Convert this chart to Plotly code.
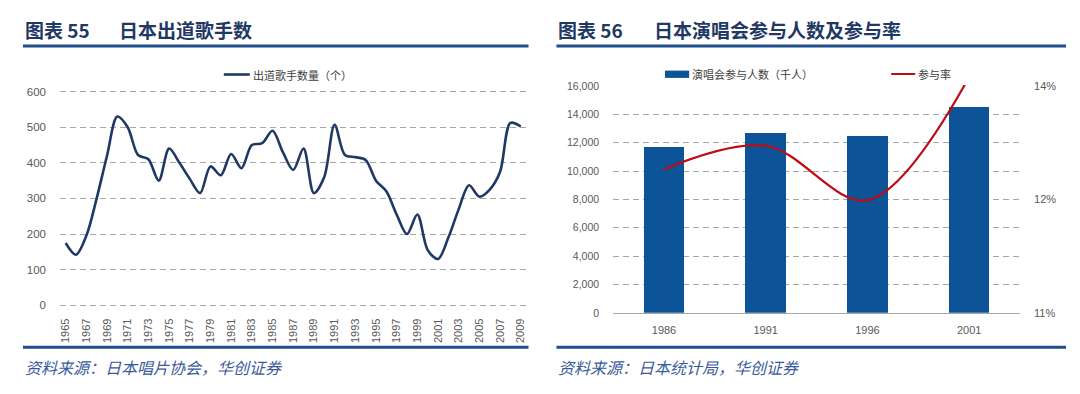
import plotly.graph_objects as go

# ---------------- data ----------------
debut_years = list(range(1965, 2010))
debut_singers = [175, 142, 195, 300, 420, 530, 500, 422, 410, 350,
                 440, 400, 355, 315, 390, 365, 425, 385, 450, 455,
                 490, 430, 380, 440, 315, 360, 507, 422, 416, 408,
                 350, 320, 255, 200, 255, 155, 130, 190, 270, 337,
                 305, 325, 375, 512, 502]

concert_years = ["1986", "1991", "1996", "2001"]
concert_attendance = [11700, 12700, 12500, 14500]   # 千人
participation_rate = [12.50, 12.81, 12.09, 13.72]   # %

left_y_ticks = [0, 100, 200, 300, 400, 500, 600]
right_y_ticks = [0, 2000, 4000, 6000, 8000, 10000, 12000, 14000, 16000]
rate_axis_range = [10.6, 13.6]
rate_tick_vals = [10.6, 12.1, 13.6]
rate_tick_text = ["11%", "12%", "14%"]

# ---------------- helpers ----------------
W, H = 1080, 394
def px(x):
    return x / W
def py(y):
    return 1 - y / H

NAVY = "#1F3864"
RULE = "#1F4E8C"
GRID = "#A6A6A6"
TICK = "#595959"
BAR = "#0C5497"
RED = "#C00A14"
TICKFONT = dict(family="Liberation Sans, Arial", size=11, color=TICK)

fig = go.Figure()

fig.add_trace(go.Scatter(
    x=debut_years, y=debut_singers, mode="lines",
    line=dict(color=NAVY, width=2.6, shape="spline", smoothing=0.9),
    xaxis="x", yaxis="y", showlegend=False, hoverinfo="x+y"))

fig.add_trace(go.Bar(
    x=concert_years, y=concert_attendance, width=0.4,
    marker=dict(color=BAR, line=dict(width=0)),
    xaxis="x2", yaxis="y2", showlegend=False))

fig.add_trace(go.Scatter(
    x=concert_years, y=participation_rate, mode="lines",
    line=dict(color=RED, width=2.2, shape="spline", smoothing=1.0),
    xaxis="x2", yaxis="y3", showlegend=False))

fig.update_layout(
    width=W, height=H,
    margin=dict(l=0, r=0, t=0, b=0),
    paper_bgcolor="white", plot_bgcolor="white",
    font=dict(family="Noto Sans CJK SC", color=TICK),
    bargap=0,
    xaxis=dict(domain=[px(59), px(527)], anchor="y",
               range=[1964.45, 2009.65], tickmode="array",
               tickvals=debut_years[::2], ticktext=[str(v) for v in debut_years[::2]],
               tickangle=-90, tickfont=TICKFONT, showgrid=False, zeroline=False,
               showline=False, ticks="", ticklabelstandoff=9),
    yaxis=dict(domain=[py(310), py(88)], anchor="x",
               range=[-3, 603], tickvals=left_y_ticks,
               tickfont=dict(family="Liberation Sans, Arial", size=11.5, color=TICK),
               showgrid=True, gridcolor=GRID, griddash="6px,4px", gridwidth=1,
               zeroline=False, showline=False, ticks="", ticklabelstandoff=13),
    xaxis2=dict(domain=[px(612.7), px(1020)], anchor="y2",
                type="category", range=[-0.5, 3.5],
                tickfont=TICKFONT, showgrid=False, zeroline=False,
                showline=True, linecolor=GRID, linewidth=1, ticks="",
                ticklabelstandoff=7),
    yaxis2=dict(domain=[py(316.7), py(82.3)], anchor="x2",
                range=[0, 16070], tickvals=right_y_ticks, tickformat=",d",
                tickfont=dict(family="Liberation Sans, Arial", size=10.5, color=TICK),
                showgrid=True, gridcolor=GRID, griddash="6px,4px", gridwidth=1,
                zeroline=False, showline=False, ticks="", ticklabelstandoff=13),
    yaxis3=dict(overlaying="y2", anchor="x2", side="right",
                range=[rate_axis_range[0], rate_axis_range[1] + 0.013],
                tickvals=rate_tick_vals, ticktext=rate_tick_text,
                tickfont=dict(family="Liberation Sans, Arial", size=11, color=TICK),
                showgrid=False, zeroline=False, showline=False, ticks="",
                ticklabelstandoff=13),
)

shapes = []
# title rules and bottom rules
for x0, x1 in [(22, 528), (556, 1066)]:
    shapes.append(dict(type="line", xref="paper", yref="paper",
                       x0=px(x0), x1=px(x1), y0=py(42.3), y1=py(42.3),
                       line=dict(color=RULE, width=3)))
    shapes.append(dict(type="line", xref="paper", yref="paper",
                       x0=px(x0), x1=px(x1), y0=py(352), y1=py(352),
                       line=dict(color=RULE, width=3)))
# legend keys
shapes.append(dict(type="line", xref="paper", yref="paper",
                   x0=px(223), x1=px(249), y0=py(71.5), y1=py(71.5),
                   line=dict(color=NAVY, width=2.6)))
shapes.append(dict(type="rect", xref="paper", yref="paper",
                   x0=px(664.6), x1=px(688.8), y0=py(75), y1=py(67.5),
                   fillcolor=BAR, line=dict(width=0)))
shapes.append(dict(type="line", xref="paper", yref="paper",
                   x0=px(891), x1=px(915), y0=py(71), y1=py(71),
                   line=dict(color=RED, width=2)))
fig.update_layout(shapes=shapes)

TITLEFONT = dict(family="Noto Sans CJK SC", size=19, color=NAVY)
LEGFONT = dict(family="Noto Sans CJK SC", size=11, color="#404040")
SRCFONT = dict(family="Noto Sans CJK SC", size=16, color="#3A5A9C", style="italic")

annotations = [
    dict(text="<b>图表 55</b>", x=px(22), y=py(25), xanchor="left", yanchor="middle", font=TITLEFONT),
    dict(text="<b>日本出道歌手数</b>", x=px(116), y=py(25), xanchor="left", yanchor="middle", font=TITLEFONT),
    dict(text="<b>图表 56</b>", x=px(556), y=py(25), xanchor="left", yanchor="middle", font=TITLEFONT),
    dict(text="<b>日本演唱会参与人数及参与率</b>", x=px(652), y=py(25), xanchor="left", yanchor="middle", font=TITLEFONT),
    dict(text="出道歌手数量（个）", x=px(250), y=py(71.5), xanchor="left", yanchor="middle", font=LEGFONT),
    dict(text="演唱会参与人数（千人）", x=px(690), y=py(71), xanchor="left", yanchor="middle", font=LEGFONT),
    dict(text="参与率", x=px(916), y=py(71), xanchor="left", yanchor="middle", font=LEGFONT),
    dict(text="资料来源：日本唱片协会，华创证券", x=px(22), y=py(372), xanchor="left", yanchor="middle", font=SRCFONT),
    dict(text="资料来源：日本统计局，华创证券", x=px(556), y=py(372), xanchor="left", yanchor="middle", font=SRCFONT),
]
for a in annotations:
    a.update(xref="paper", yref="paper", showarrow=False)
fig.update_layout(annotations=annotations)

fig.write_html("out.html",
               config={"displayModeBar": False},
               post_script="document.body.style.margin='0px';document.body.style.overflow='hidden';")
